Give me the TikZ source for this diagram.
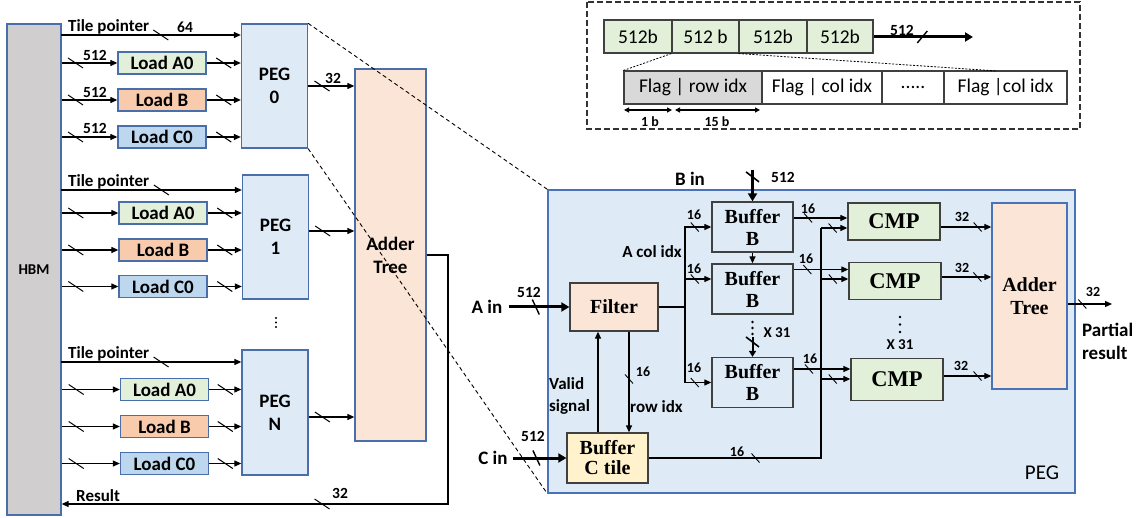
\documentclass[tikz,border=0pt]{standalone}
\usepackage{fontspec}
\setmainfont{Carlito}
\newfontfamily\tnr{Liberation Serif}
\usetikzlibrary{arrows.meta}

\definecolor{hbmgray}{HTML}{D0CECE}
\definecolor{edgeblue}{HTML}{4A6EAA}
\definecolor{detailblue}{HTML}{4A72B8}
\definecolor{pegblue}{HTML}{DEEBF7}
\definecolor{ldgreen}{HTML}{E2F0D9}
\definecolor{ldpeach}{HTML}{F8CBAD}
\definecolor{ldblue}{HTML}{BDD7EE}
\definecolor{addpeach}{HTML}{FBE5D6}
\definecolor{bufyellow}{HTML}{FFF2CC}
\definecolor{cellgray}{HTML}{D9D9D9}
\definecolor{boxedge}{HTML}{404040}

% a connector (#2) drawn with style #1, plus a bus-width slash of type #4 at position #3
\newcommand\wire[4]{\draw[#1] #2; \path #2 pic[pos=#3]{#4};}

\tikzset{
  bus/.pic={\draw[-, line width=1pt] (-7.5,-5) -- (7.5,5);},
  sbus/.pic={\draw[-, line width=0.9pt] (-4,-4.5) -- (4,4.5);},
  tbus/.pic={\draw[-, line width=1.4pt] (-3.5,-7.5) -- (3.5,7.5);},
  vbus/.pic={\draw[-, line width=1.6pt] (-6.5,-5) -- (6.5,5);},
  fbus/.pic={\draw[-, line width=1.4pt] (-5,6) -- (5,-6);},
  blk/.style={draw=edgeblue, line width=1.3pt, inner sep=0pt, align=center},
  boxtxt/.style={font=\fontsize{19}{23}\selectfont\bfseries},
  load/.style={blk, minimum width=88pt, minimum height=22pt, boxtxt},
  inbox/.style={draw=boxedge, line width=1.3pt, inner sep=0pt, align=center,
    font=\tnr\bfseries\fontsize{20}{22}\selectfont},
  arr/.style={line width=1.2pt, -{Triangle[length=7pt,width=6pt]}},
  thickarr/.style={line width=3pt, -{Triangle[length=8pt,width=9pt]}},
  lbl/.style={font=\fontsize{17}{22}\selectfont\bfseries, inner sep=1pt, align=left},
  lblb/.style={font=\fontsize{19}{23}\selectfont\bfseries, inner sep=1pt, align=left},
  num/.style={font=\fontsize{15.5}{17}\selectfont\bfseries, inner sep=1pt},
  snum/.style={font=\fontsize{14}{16}\selectfont\bfseries, inner sep=1pt},
  cell/.style={draw=boxedge, line width=1.1pt, inner sep=0pt, minimum height=33pt,
    font=\fontsize{19.5}{22}\selectfont},
  zoomdash/.style={line width=0.9pt, dash pattern=on 4pt off 3pt},
  framedash/.style={line width=1.3pt, draw=black!80, dash pattern=on 6pt off 3pt},
  dotline/.style={line width=0.8pt, dash pattern=on 2pt off 1.5pt},
}

\begin{document}
\begin{tikzpicture}[x=1pt, y=-1pt]
\useasboundingbox (0,0) rectangle (1143,518);

% ---------------- HBM side ----------------
\node[blk, fill=hbmgray, minimum width=54pt, minimum height=491pt,
      font=\fontsize{15}{17}\selectfont\bfseries] (hbm) at (34,269.5) {HBM};

\node[blk, fill=pegblue, minimum width=66pt, minimum height=124pt, boxtxt] (peg0) at (274.5,86) {PEG\\0};
\node[blk, fill=pegblue, minimum width=66pt, minimum height=124pt, boxtxt] (peg1) at (275.5,237) {PEG\\1};
\node[blk, fill=pegblue, minimum width=66pt, minimum height=125pt, boxtxt] (pegN) at (275,412.5) {PEG\\N};

\node[load, fill=ldgreen] (la0) at (162,63) {Load A0};
\node[load, fill=ldpeach] (lb0) at (162,100) {Load B};
\node[load, fill=ldblue]  (lc0) at (162,137) {Load C0};
\node[load, fill=ldgreen] (la1) at (163,213) {Load A0};
\node[load, fill=ldpeach] (lb1) at (163,250) {Load B};
\node[load, fill=ldblue]  (lc1) at (163,286.5) {Load C0};
\node[load, fill=ldgreen] (laN) at (164.5,389.5) {Load A0};
\node[load, fill=ldpeach] (lbN) at (164.5,426.5) {Load B};
\node[load, fill=ldblue]  (lcN) at (164.5,463.5) {Load C0};

% tile pointers
\coordinate (tp0) at (61,35);
\coordinate (tp1) at (61,190);
\coordinate (tpN) at (61,362);
\wire{arr}{(tp0) -- (tp0 -| peg0.west)}{.555}{bus}
\wire{arr}{(tp1) -- (tp1 -| peg1.west)}{.555}{bus}
\wire{arr}{(tpN) -- (tpN -| pegN.west)}{.555}{bus}
\node[lbl, anchor=base west] (tpl0) at (67,32) {Tile pointer};
\node[lbl, anchor=base west] (tpl1) at (67,187) {Tile pointer};
\node[lbl, anchor=base west] (tplN) at (67,359) {Tile pointer};
\node[num] (n64) at (185,27) {64};

% HBM to loaders, loaders to PEGs
\foreach \ld/\pg in {la0/peg0,lb0/peg0,lc0/peg0,la1/peg1,lb1/peg1,lc1/peg1,laN/pegN,lbN/pegN,lcN/pegN}{
  \wire{arr}{(hbm.east |- \ld.west) -- (\ld.west)}{.25}{bus}
  \wire{arr}{(\ld.east) -- (\ld.east -| \pg.west)}{.5}{bus}
}
\node[num] (n512a) at (95,55) {512};
\node[num] (n512b) at (95,92) {512};
\node[num] (n512c) at (95,128.5) {512};

% left adder tree
\node[blk, fill=addpeach, minimum width=71pt, minimum height=372pt, boxtxt] (adderL) at (390.5,255) {Adder\\Tree};
\wire{arr}{(peg0.east |- 0,86) -- (adderL.west |- 0,86)}{.3}{bus}
\wire{arr}{(peg1.east |- 0,231) -- (adderL.west |- 0,231)}{.3}{bus}
\wire{arr}{(pegN.east |- 0,417) -- (adderL.west |- 0,417)}{.3}{bus}
\node[num] (n32a) at (333,78) {32};

% result back to HBM
\coordinate (rc) at (448,504);
\draw[arr] (adderL.east) -- (adderL.east -| rc) -- (rc) -- (rc -| hbm.east);
\path (rc) -- (rc -| hbm.east) pic[pos=.326]{bus};
\node[num] (n32r) at (340,493) {32};
\node[lbl, anchor=west] (result) at (75,496) {Result};

% vertical ellipsis between PEGs
\fill (276,318) circle (1.1) (276,322.5) circle (1.1) (276,327) circle (1.1);

% ---------------- PEG detail ----------------
\node[draw=detailblue, fill=pegblue, line width=1.3pt, inner sep=0pt,
      minimum width=527pt, minimum height=303pt] (pegbox) at (811.5,341.5) {};
\node[font=\fontsize{21}{24}\selectfont] (pegname) at (1042,473) {PEG};

\draw[zoomdash] (peg0.north east) -- (pegbox.north west);
\draw[zoomdash] (peg0.south east) -- (pegbox.south west);

\node[inbox, fill=addpeach, minimum width=88pt, minimum height=48pt] (filter) at (614,307) {Filter};
\node[inbox, fill=bufyellow, minimum width=81pt, minimum height=50pt,
      font=\tnr\bfseries\fontsize{20}{20}\selectfont] (bufC) at (607.5,458) {Buffer\\C tile};
\node[inbox, fill=pegblue, minimum width=81pt, minimum height=50pt] (b1) at (752.5,227) {Buffer\\B};
\node[inbox, fill=pegblue, minimum width=81pt, minimum height=50pt] (b2) at (752.5,289) {Buffer\\B};
\node[inbox, fill=pegblue, minimum width=81pt, minimum height=50pt] (b3) at (752.5,382.5) {Buffer\\B};
\node[inbox, fill=ldgreen, minimum width=92pt, minimum height=37pt,
      font=\tnr\bfseries\fontsize{22.5}{24}\selectfont] (cmp1) at (894,221.5) {CMP};
\node[inbox, fill=ldgreen, minimum width=92pt, minimum height=37pt,
      font=\tnr\bfseries\fontsize{22.5}{24}\selectfont] (cmp2) at (895,281) {CMP};
\node[inbox, fill=ldgreen, minimum width=92pt, minimum height=42pt,
      font=\tnr\bfseries\fontsize{22.5}{24}\selectfont] (cmp3) at (897,379.5) {CMP};
\node[inbox, draw=detailblue, fill=addpeach, minimum width=75pt, minimum height=186pt,
      font=\tnr\bfseries\fontsize{20}{23}\selectfont] (adderR) at (1029.5,296) {Adder\\Tree};

% external inputs
\node[lblb] (ain) at (487,307) {A in};
\wire{thickarr, shorten <=5pt}{(ain.east) -- (ain.east -| filter.west)}{.49}{tbus}
\node[num] (n512ain) at (529,292) {512};
\node[lblb] (cin) at (493,458) {C in};
\wire{thickarr, shorten <=4pt}{(cin.east) -- (cin.east -| bufC.west)}{.48}{tbus}
\node[num] (n512cin) at (533,436) {512};
\node[lblb] (bin) at (690,179) {B in};
\coordinate (bsrc) at (752.5,170);
\wire{thickarr}{(bsrc) -- (b1.north)}{.22}{vbus}
\node[num] (n512bin) at (783,177) {512};

% buffer B chain
\draw[arr] (b1.south) -- (b2.north);
\fill (752.5,322) circle (1.3) (752.5,328) circle (1.3) (752.5,334) circle (1.3);
\coordinate (b3src) at (752.5,337);
\wire{line width=2pt, -{Triangle[length=6pt,width=7pt]}}{(b3src) -- (b3.north)}{.25}{vbus}
\node[num, font=\fontsize{15}{17}\selectfont\bfseries] (x31a) at (777,333) {X 31};

% valid signal and row index
\coordinate (vs) at (598,0);
\coordinate (ri) at (629,0);
\draw[arr] (bufC.north -| vs) -- (filter.south -| vs);
\wire{arr}{(filter.south -| ri) -- (bufC.north -| ri)}{.47}{sbus}
\node[snum] (n16r) at (643,372) {16};
\node[lbl, anchor=west] (valid) at (548,396) {Valid\\signal};
\node[lbl, anchor=west] (rowidx) at (629,407) {row idx};

% filter fan-out to buffers B
\coordinate (fx) at (685,0);
\draw[arr] (filter.east) -| (fx |- b1.west) -- (b1.west);
\path (fx |- b1.west) -- (b1.west) pic[pos=.37]{sbus};
\draw[arr] (filter.east) -| (fx |- b3.west) -- (b3.west);
\path (fx |- b3.west) -- (b3.west) pic[pos=.37]{sbus};
\wire{arr}{(fx |- 0,279) -- (b2.west |- 0,279)}{.37}{sbus}
\node[snum] (n16f1) at (694,215) {16};
\node[snum] (n16f2) at (694,269) {16};
\node[snum] (n16f3) at (694,368) {16};
\node[lbl] (acol) at (652,252) {A col idx};

% buffers B to comparators
\wire{arr}{(b1.east |- 0,218) -- (cmp1.west |- 0,218)}{.27}{sbus}
\wire{arr}{(b2.east |- 0,269.5) -- (cmp2.west |- 0,269.5)}{.25}{sbus}
\wire{arr}{(b3.east |- 0,369) -- (cmp3.west |- 0,369)}{.27}{sbus}
\node[snum] (n16b1) at (808,209) {16};
\node[snum] (n16b2) at (806,259) {16};
\node[snum] (n16b3) at (810,359) {16};

% buffer C tile to comparators
\coordinate (cv) at (821,0);
\draw[line width=1.2pt] (bufC.east) -- (bufC.east -| cv) -- (cv |- 0,228);
\path (bufC.east) -- (bufC.east -| cv) pic[pos=.62]{sbus};
\node[snum] (n16c) at (737,452) {16};
\wire{arr}{(cv |- 0,228) -- (cmp1.west |- 0,228)}{.44}{sbus}
\wire{arr}{(cv |- 0,279) -- (cmp2.west |- 0,279)}{.43}{sbus}
\wire{arr}{(cv |- 0,379) -- (cmp3.west |- 0,379)}{.4}{sbus}

% comparators to adder tree
\wire{arr}{(cmp1.east |- 0,227) -- (adderR.west |- 0,227)}{.73}{sbus}
\wire{arr}{(cmp2.east |- 0,277) -- (adderR.west |- 0,277)}{.72}{sbus}
\wire{arr}{(cmp3.east |- 0,376) -- (adderR.west |- 0,376)}{.71}{sbus}
\node[snum] (n32c1) at (962,217) {32};
\node[snum] (n32c2) at (962,268) {32};
\node[snum] (n32c3) at (961,366) {32};
\fill (900,317) circle (1.3) (900,324.5) circle (1.3) (900,332) circle (1.3);
\node[num, font=\fontsize{15}{17}\selectfont\bfseries] (x31b) at (900,345) {X 31};

% partial result
\coordinate (pout) at (1112,304);
\wire{arr}{(adderR.east |- pout) -- (pout)}{.33}{sbus}
\node[snum] (n32o) at (1093,292) {32};
\node[lblb, anchor=west] (partial) at (1081,341.5) {Partial\\result};

% ---------------- data layout ----------------
\draw[framedash] (587,2) rectangle (1080,129);
\node[cell, fill=ldgreen, minimum width=68pt] (r1) at (638,36.5) {512b};
\node[cell, fill=ldgreen, minimum width=67pt] (r2) at (705.5,36.5) {512 b};
\node[cell, fill=ldgreen, minimum width=68pt] (r3) at (773,36.5) {512b};
\node[cell, fill=ldgreen, minimum width=66pt] (r4) at (840,36.5) {512b};
\coordinate (tout) at (973,37);
\wire{thickarr}{(r4.east |- tout) -- (tout)}{.49}{fbus}
\node[num] (n512t) at (902,30) {512};

\node[cell, fill=cellgray, minimum width=138pt] (s1) at (693,87.5) {Flag \textbar\ row idx};
\node[cell, fill=white, minimum width=120pt] (s2) at (822,87.5) {Flag \textbar\ col idx};
\node[cell, fill=white, minimum width=62pt] (s3) at (913,87.5) {.....};
\node[cell, fill=white, minimum width=123pt] (s4) at (1005.5,87.5) {Flag \textbar col idx};

\coordinate (dz) at (997,71);
\draw[dotline] (r2.south west) -- (s1.north west);
\draw[dotline] (r3.south west) -- (dz);

\coordinate (d0) at (624,110);
\coordinate (d1) at (672,110);
\coordinate (d2) at (675,110);
\coordinate (d3) at (760,110);
\draw[line width=1.1pt, {Triangle[length=5pt,width=5pt]}-{Triangle[length=5pt,width=5pt]}] (d0) -- (d1);
\draw[line width=1.1pt, {Triangle[length=5pt,width=5pt]}-{Triangle[length=5pt,width=5pt]}] (d2) -- (d3);
\node[snum] (w1) at (650,122) {1 b};
\node[snum] (w15) at (717,122) {15 b};
\end{tikzpicture}
\end{document}
